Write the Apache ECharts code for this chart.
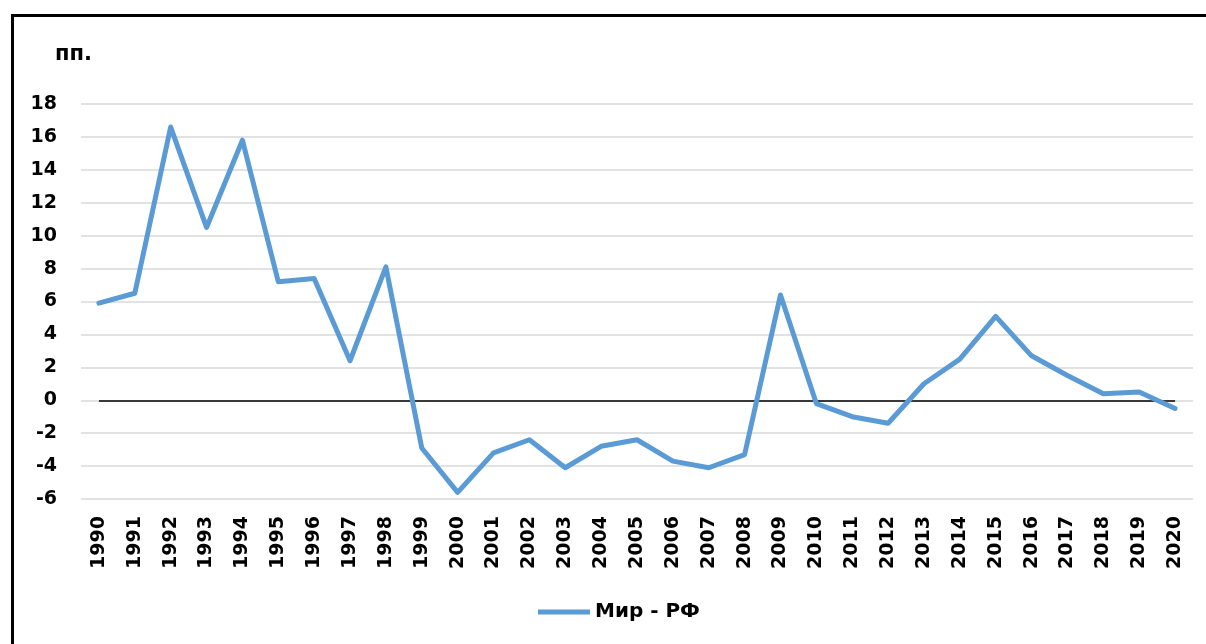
<!DOCTYPE html>
<html>
<head>
<meta charset="utf-8">
<script src="https://cdn.jsdelivr.net/npm/echarts@6/dist/echarts.min.js"></script>
<style>
  html, body { margin: 0; padding: 0; background: #fff; }
  #chart { position: absolute; left: 0; top: 0; width: 1206px; height: 644px; }
  /* рамка: видны только верх и левая сторона */
  .frame { position: absolute; left: 11px; top: 14px; right: -10px; bottom: -10px;
           border-top: 3px solid #000; border-left: 3px solid #000; pointer-events: none; }
</style>
</head>
<body>
<div id="chart"></div>
<div class="frame"></div>
<script>
// годы
const years = ['1990','1991','1992','1993','1994','1995','1996','1997','1998','1999',
  '2000','2001','2002','2003','2004','2005','2006','2007','2008','2009',
  '2010','2011','2012','2013','2014','2015','2016','2017','2018','2019','2020']

// Мир - РФ, пп.
const mirRf = [5.9, 6.5, 16.6, 10.5, 15.8, 7.2, 7.4, 2.4, 8.1, -2.9,
  -5.6, -3.2, -2.4, -4.1, -2.8, -2.4, -3.7, -4.1, -3.3, 6.4,
  -0.2, -1.0, -1.4, 1.0, 2.5, 5.1, 2.7, 1.5, 0.4, 0.5, -0.5]

const yMin = -6
const yMax = 18
const yStep = 2

const chart = echarts.init(document.getElementById('chart'))
const fontMain = '"DejaVu Sans", "Liberation Sans", sans-serif'

chart.setOption({
  animation: false,
  title: {
    text: 'пп.',
    left: 50,
    top: 39,
    textStyle: { fontFamily: fontMain, fontWeight: 'bold', fontSize: 21, color: '#000' },
  },
  legend: {
    data: ['Мир - РФ'],
    bottom: 17,
    left: 533,
    itemWidth: 52,
    itemHeight: 5,
    itemGap: 6,
    textStyle: { fontFamily: fontMain, fontWeight: 'bold', fontSize: 20, color: '#000' },
    icon: 'rect',
  },
  grid: {
    left: 81,
    right: 13,
    top: 104,
    bottom: 145,
  },
  xAxis: {
    type: 'category',
    data: years,
    boundaryGap: true,
    axisLine: { show: false },
    axisTick: { show: false },
    axisLabel: {
      rotate: 90,
      interval: 0,
      margin: 17,
      fontFamily: fontMain,
      fontWeight: 'bold',
      fontSize: 19,
      color: '#000',
    },
  },
  yAxis: {
    type: 'value',
    min: yMin,
    max: yMax,
    interval: yStep,
    axisLine: { show: false },
    axisTick: { show: false },
    axisLabel: {
      margin: 24,
      fontFamily: fontMain,
      fontWeight: 'bold',
      fontSize: 19,
      color: '#000',
    },
    splitLine: { lineStyle: { color: '#d9d9d9', width: 1.5 } },
  },
  series: [
    {
      name: 'Мир - РФ',
      type: 'line',
      data: mirRf,
      symbol: 'none',
      smooth: false,
      color: '#5b9bd5',
      lineStyle: { width: 5, color: '#5b9bd5', join: 'round', cap: 'round' },
      // нулевая линия от первого до последнего года
      markLine: {
        silent: true,
        symbol: 'none',
        label: { show: false },
        lineStyle: { color: '#000', width: 1.5, type: 'solid' },
        data: [[{ xAxis: years[0], yAxis: 0 }, { xAxis: years[years.length - 1], yAxis: 0 }]],
        z: 1,
      },
      z: 3,
    },
  ],
})
</script>
</body>
</html>
